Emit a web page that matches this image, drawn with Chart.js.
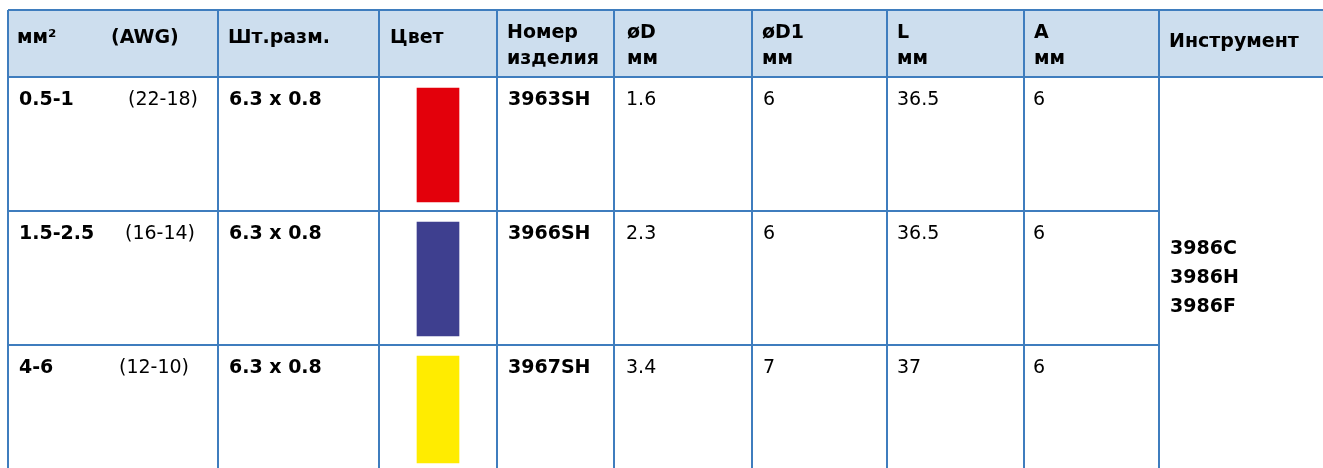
<!DOCTYPE html>
<html>
<head>
<meta charset="utf-8">
<script src="https://cdn.jsdelivr.net/npm/chart.js@4"></script>
<style>
  html, body { margin: 0; padding: 0; background: #ffffff; }
  #wrap { width: 1323px; height: 468px; position: relative; }
</style>
</head>
<body>
<div id="wrap"><canvas id="chart"></canvas></div>
<script>
// table content
const headerLabels = [['мм²'], ['Шт.разм.'], ['Цвет'], ['Номер', 'изделия'], ['øD', 'мм'], ['øD1', 'мм'], ['L', 'мм'], ['A', 'мм'], ['Инструмент']];
const crossSection = ['0.5-1', '1.5-2.5', '4-6'];
const awgRange = ['(22-18)', '(16-14)', '(12-10)'];
const tabSize = ['6.3 x 0.8', '6.3 x 0.8', '6.3 x 0.8'];
const swatchColors = ['#e3000b', '#3e3f8f', '#ffec00'];
const partNumber = ['3963SH', '3966SH', '3967SH'];
const diamD = ['1.6', '2.3', '3.4'];
const diamD1 = ['6', '6', '7'];
const lengthL = ['36.5', '36.5', '37'];
const dimA = ['6', '6', '6'];
const tools = ['3986C', '3986H', '3986F'];

// layout
const colEdges = [8, 218, 379, 497, 614, 752, 887, 1024, 1159, 1323];
const headTop = 10, headBottom = 77;
const rowEdges = [77, 211, 345, 472];
const awgX = [128, 125, 119];
const lineColor = '#3f7dbe';
const headFill = '#cddeee';
const boldFont = 'bold 19px "DejaVu Sans"';
const normFont = '19px "DejaVu Sans"';

const colourCol = 2;
const swatchX = (colEdges[colourCol] + colEdges[colourCol + 1]) / 2;

const tablePlugin = {
    id: 'table',
    beforeDatasetsDraw(chart) {
        const ctx = chart.ctx;
        const sx = chart.scales.x, sy = chart.scales.y;
        const px = v => sx.getPixelForValue(v);
        const py = v => sy.getPixelForValue(v);
        ctx.save();
        // header background
        ctx.fillStyle = headFill;
        ctx.fillRect(px(colEdges[0]), py(headTop), px(colEdges[colEdges.length - 1]) - px(colEdges[0]), py(headBottom) - py(headTop));
        ctx.strokeStyle = lineColor;
        ctx.lineWidth = 2;
        ctx.beginPath();
        // top + header bottom across full width
        [headTop, headBottom].forEach(y => {
            ctx.moveTo(px(colEdges[0]), py(y));
            ctx.lineTo(px(colEdges[colEdges.length - 1]), py(y));
        });
        // row separators stop at the tool column
        rowEdges.slice(1).forEach(y => {
            ctx.moveTo(px(colEdges[0]), py(y));
            ctx.lineTo(px(colEdges[8]), py(y));
        });
        // vertical lines
        colEdges.slice(0, 9).forEach(x => {
            ctx.moveTo(px(x), py(headTop));
            ctx.lineTo(px(x), py(468));
        });
        ctx.stroke();

        // header text
        ctx.fillStyle = '#000000';
        ctx.font = boldFont;
        ctx.textBaseline = 'alphabetic';
        ctx.textAlign = 'left';
        headerLabels.forEach((lines, i) => {
            const x = px(colEdges[i] + (i === 0 ? 9 : i === 2 ? 11 : i === 4 ? 13 : 10));
            if (lines.length === 1) {
                ctx.fillText(lines[0], x, py(i === 8 ? 47 : 43));
            } else {
                ctx.fillText(lines[0], x, py(38));
                ctx.fillText(lines[1], x, py(64));
            }
        });
        ctx.fillText('(AWG)', px(111), py(43));

        // body text
        for (let r = 0; r < crossSection.length; r++) {
            const base = py(rowEdges[r] + 28);
            ctx.font = boldFont;
            ctx.fillText(crossSection[r], px(colEdges[0] + 11), base);
            ctx.fillText(tabSize[r], px(colEdges[1] + 11), base);
            ctx.fillText(partNumber[r], px(colEdges[3] + 11), base);
            ctx.font = normFont;
            ctx.fillText(awgRange[r], px(awgX[r]), base);
            ctx.fillText(diamD[r], px(colEdges[4] + 12), base);
            ctx.fillText(diamD1[r], px(colEdges[5] + 11), base);
            ctx.fillText(lengthL[r], px(colEdges[6] + 10), base);
            ctx.fillText(dimA[r], px(colEdges[7] + 9), base);
        }
        // tool list in the merged cell
        ctx.font = boldFont;
        tools.forEach((t, i) => {
            ctx.fillText(t, px(colEdges[8] + 11), py(254 + i * 29));
        });
        ctx.restore();
    }
};

new Chart(document.getElementById('chart'), {
    type: 'bar',
    data: {
        datasets: [{
            data: swatchColors.map((c, r) => ({
                x: swatchX,
                y: [rowEdges[r] + 11, Math.min(rowEdges[r + 1] - 9, 463)]
            })),
            backgroundColor: swatchColors,
            borderWidth: 0,
            barThickness: 42
        }]
    },
    options: {
        responsive: true,
        maintainAspectRatio: false,
        animation: false,
        layout: { padding: 0 },
        plugins: { legend: { display: false }, tooltip: { enabled: false } },
        scales: {
            x: { type: 'linear', min: 0, max: 1323, offset: false, display: false },
            y: { type: 'linear', min: 0, max: 468, reverse: true, display: false }
        }
    },
    plugins: [tablePlugin]
});
</script>
</body>
</html>
